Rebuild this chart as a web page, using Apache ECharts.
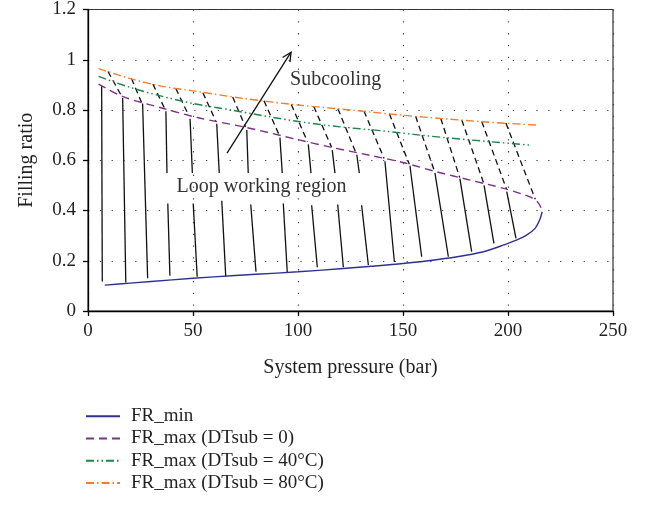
<!DOCTYPE html>
<html><head><meta charset="utf-8">
<script src="https://cdn.jsdelivr.net/npm/echarts@6.0.0/dist/echarts.min.js"></script>
<style>html,body{margin:0;padding:0;background:#fff}#c{width:649px;height:507px}</style>
</head><body><div id="c"></div>
<script>
const FONT = '"Liberation Serif", "DejaVu Serif", serif';
const TXT = '#231f20';

// ---- data ----
const seriesNames = ['FR_min', 'FR_max (DTsub = 0)', 'FR_max (DTsub = 40°C)', 'FR_max (DTsub = 80°C)'];
const frMin = [[8,0.103],[20,0.111],[40,0.124],[60,0.136],[80,0.146],[100,0.156],[120,0.168],[135,0.178],[150,0.189],[165,0.203],[180,0.222],[190,0.240],[198,0.263],[204,0.282],[209,0.303],[213,0.33],[215.2,0.365],[216.3,0.395]];
const frMax0 = [[5,0.903],[17,0.852],[36,0.806],[52,0.77],[74,0.733],[101,0.68],[115,0.653],[134,0.62],[150,0.591],[166,0.554],[182,0.521],[198,0.488],[207,0.465],[211,0.452],[214,0.435],[215.5,0.415],[216.3,0.395]];
const frMax40 = [[5,0.934],[20,0.89],[35,0.855],[50,0.826],[68,0.80],[85,0.775],[101,0.753],[120,0.733],[139,0.718],[155,0.703],[170,0.69],[190,0.675],[211,0.66]];
const frMax80 = [[5,0.965],[20,0.925],[35,0.895],[50,0.876],[75,0.845],[101,0.819],[125,0.80],[150,0.779],[170,0.765],[190,0.752],[213.6,0.74]];

// hatch segments [x1, y1, x2, y2] in data units
const loopHatch = [
  [6.5,0.895,6.8,0.117],[16.5,0.848,18.0,0.113],[26.0,0.826,28.4,0.130],
  [37.1,0.795,37.6,0.549],[38.0,0.428,39.0,0.140],
  [48.6,0.765,49.7,0.549],[50.1,0.428,52.0,0.136],
  [61.3,0.745,62.5,0.549],[63.7,0.439,65.6,0.136],
  [75.6,0.720,76.3,0.549],[77.5,0.424,80.0,0.156],
  [91.4,0.690,92.5,0.549],[93.0,0.428,94.9,0.152],
  [104.9,0.663,106.2,0.549],[106.5,0.421,109.2,0.174],
  [116.3,0.640,117.6,0.549],[118.9,0.424,121.6,0.174],
  [128.0,0.622,129.2,0.549],[130.3,0.421,133.5,0.183],
  [141.4,0.596,145.9,0.195],[153.3,0.578,158.9,0.216],[165.2,0.550,171.6,0.216],
  [177.1,0.527,182.7,0.236],[188.6,0.500,193.3,0.269],[199.4,0.475,203.8,0.289]
];
const subHatch = [
  [9.5,0.953,16,0.855],[20.7,0.925,25.5,0.83],[30.9,0.903,36.5,0.806],[41.8,0.886,48,0.778],
  [54.7,0.869,60.8,0.757],[68.9,0.852,75,0.732],[83.8,0.837,91,0.701],[96.8,0.822,104.5,0.674],
  [107.5,0.814,116,0.652],[119,0.805,127.5,0.631],[131.4,0.796,141,0.607],[143.5,0.785,153,0.584],
  [156,0.775,165,0.556],[168,0.766,177,0.531],[178,0.760,188.5,0.507],[187.5,0.754,199.3,0.485],
  [199,0.748,213,0.445]
];
const arrowSeg = [[66.2,0.628,96.7,1.03]];
const annotations = [['Subcooling',96.2,0.922],['Loop working region',42.2,0.493]];

// ---- chart ----
const chart = echarts.init(document.getElementById('c'), null, {renderer:'canvas'});

function segRender(dash){
  return function(params, api){
    const a = api.coord([api.value(0), api.value(1)]);
    const b = api.coord([api.value(2), api.value(3)]);
    return {type:'line', silent:true,
      shape:{x1:a[0],y1:a[1],x2:b[0],y2:b[1]},
      style:{stroke:'#111', lineWidth:1.3, lineDash:dash}};
  };
}
function arrowRender(params, api){
  const a = api.coord([api.value(0), api.value(1)]);
  const b = api.coord([api.value(2), api.value(3)]);
  const ang = Math.atan2(b[1]-a[1], b[0]-a[0]);
  const L = 10, w = 0.45;
  const p1 = [b[0]-L*Math.cos(ang-w), b[1]-L*Math.sin(ang-w)];
  const p2 = [b[0]-L*Math.cos(ang+w), b[1]-L*Math.sin(ang+w)];
  return {type:'group', silent:true, children:[
    {type:'line', shape:{x1:a[0],y1:a[1],x2:b[0],y2:b[1]}, style:{stroke:'#111', lineWidth:1.3}},
    {type:'polyline', shape:{points:[p1,b,p2]}, style:{stroke:'#111', lineWidth:1.3, fill:null}}
  ]};
}
function textRender(params, api){
  const p = api.coord([api.value(1), api.value(2)]);
  return {type:'text', silent:true, x:p[0], y:p[1],
    style:{text: annotations[params.dataIndex][0], fill:'#333', font:'20px ' + FONT, align:'left', verticalAlign:'middle'}};
}

const gridDots = {show:true, lineStyle:{color:'#444', width:1.2, type:[1.3,10.5]}};

const option = {
  animation:false,
  backgroundColor:'#fff',
  grid:{left:88, right:36, top:9, bottom:196, show:true, borderColor:'#333', borderWidth:1.2},
  textStyle:{fontFamily:FONT},
  legend:{
    orient:'vertical', left:80, top:400, itemWidth:34, itemHeight:14, itemGap:0,
    data:seriesNames,
    itemStyle:{opacity:0},
    textStyle:{fontFamily:FONT, fontSize:19, color:TXT, lineHeight:22.3, padding:[0,0,0,6]}
  },
  xAxis:{
    type:'value', min:0, max:250, interval:50,
    name:'System pressure (bar)', nameLocation:'middle', nameGap:47,
    nameTextStyle:{fontFamily:FONT, fontSize:20, color:TXT},
    axisLine:{show:true, lineStyle:{color:'#000', width:1.3}},
    axisTick:{show:true, length:5, lineStyle:{color:'#000', width:1.3}},
    axisLabel:{fontFamily:FONT, fontSize:19, color:TXT, margin:11},
    splitLine:gridDots
  },
  yAxis:{
    type:'value', min:0, max:1.2, interval:0.2,
    name:'Filling ratio', nameLocation:'middle', nameGap:51,
    nameTextStyle:{fontFamily:FONT, fontSize:20, color:TXT},
    axisLine:{show:true, lineStyle:{color:'#000', width:1.3}},
    axisTick:{show:true, length:5, lineStyle:{color:'#000', width:1.3}},
    axisLabel:{fontFamily:FONT, fontSize:19, color:TXT, margin:12,
      formatter:v => String(Math.round(v*10)/10)},
    splitLine:gridDots
  },
  series:[
    {type:'custom', name:'loopHatch', renderItem:segRender(null), data:loopHatch, encode:{x:[0,2], y:[1,3]}, z:1, silent:true},
    {type:'custom', name:'subHatch', renderItem:segRender([6,4]), data:subHatch, encode:{x:[0,2], y:[1,3]}, z:1, silent:true},
    {type:'custom', name:'arrow', renderItem:arrowRender, data:arrowSeg, encode:{x:[0,2], y:[1,3]}, z:1, silent:true},
    {type:'custom', name:'notes', renderItem:textRender, data:annotations.map(a=>[0,a[1],a[2]]), encode:{x:1, y:2}, z:5, silent:true},
    {type:'line', name:seriesNames[0], data:frMin, symbol:'none', smooth:0.3, z:3,
      lineStyle:{color:'#2e3191', width:1.4}, itemStyle:{color:'#2e3191'}},
    {type:'line', name:seriesNames[1], data:frMax0, symbol:'none', smooth:0.3, z:3,
      lineStyle:{color:'#7e2f8e', width:1.4, type:[8,5]}, itemStyle:{color:'#7e2f8e'}},
    {type:'line', name:seriesNames[2], data:frMax40, symbol:'none', smooth:0.3, z:3,
      lineStyle:{color:'#1e8449', width:1.4, type:[8,3,1.5,3,1.5,3]}, itemStyle:{color:'#1e8449'}},
    {type:'line', name:seriesNames[3], data:frMax80, symbol:'none', smooth:0.3, z:3,
      lineStyle:{color:'#f57c2a', width:1.4, type:[8,3,1.5,3]}, itemStyle:{color:'#f57c2a'}}
  ]
};
chart.setOption(option);
</script>
</body></html>
